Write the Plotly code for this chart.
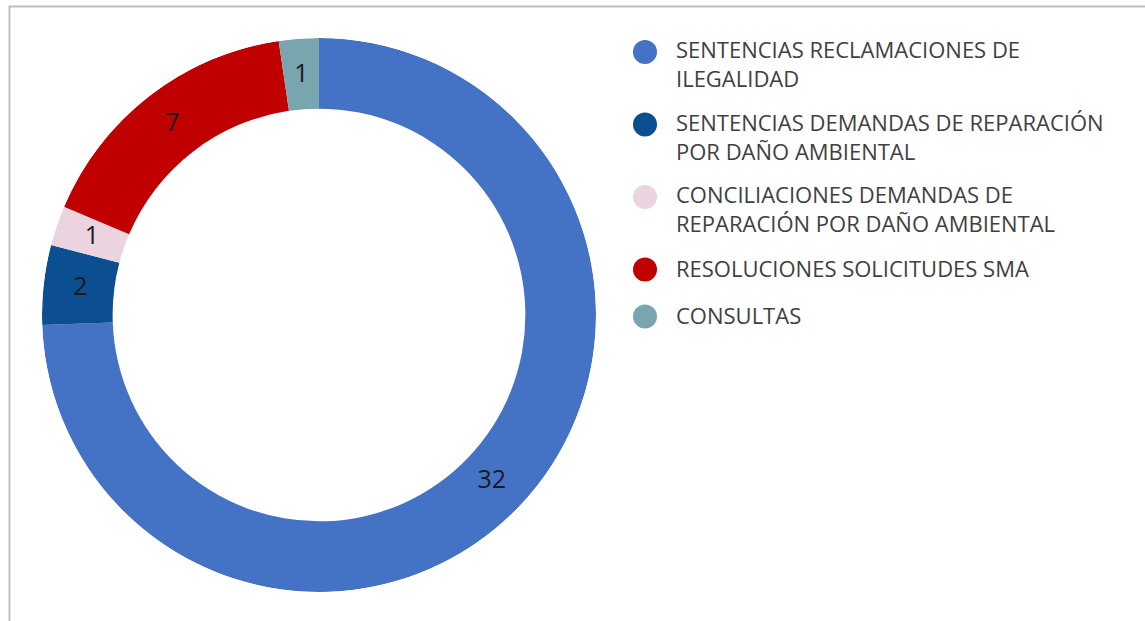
import plotly.graph_objects as go

categories = [
    "SENTENCIAS RECLAMACIONES DE<br>ILEGALIDAD",
    "SENTENCIAS DEMANDAS DE REPARACIÓN<br>POR DAÑO AMBIENTAL",
    "CONCILIACIONES DEMANDAS DE<br>REPARACIÓN POR DAÑO AMBIENTAL",
    "RESOLUCIONES SOLICITUDES SMA",
    "CONSULTAS",
]
values = [32, 2, 1, 7, 1]
colors = ["#4472C4", "#0C4F91", "#EBD3DF", "#C00000", "#79A5AF"]

W, H = 1145, 621
FONT = "Open Sans"
HOLE = 0.745
domain = dict(x=[42 / W, 596 / W], y=[1 - 592 / H, 1 - 38 / H])

# slice geometry from the values (angles in degrees, clockwise from 12 o'clock)
total = sum(values)
widths = [v / total * 360 for v in values]
mid_theta = []
cum = 0
for v in values:
    mid_theta.append((cum + v / 2) / total * 360)
    cum += v

fig = go.Figure()

# donut ring
fig.add_trace(go.Barpolar(
    theta=mid_theta, width=widths,
    r=[1 - HOLE] * len(values), base=[HOLE] * len(values),
    marker=dict(color=colors, line=dict(width=0)),
    hovertext=[c.replace("<br>", " ") + f": {v}" for c, v in zip(categories, values)],
    hoverinfo="text", showlegend=False, subplot="polar",
))

# value labels at the middle of the ring
fig.add_trace(go.Scatterpolar(
    r=[(1 + HOLE) / 2 - 0.006] * len(values), theta=mid_theta, mode="text",
    text=[str(v) for v in values],
    textfont=dict(family=FONT, size=25, color="#1a1a1a"),
    hoverinfo="skip", showlegend=False, subplot="polar",
))

# custom legend (circle markers + labels)
line_h, gap, y_start = 25.5, 21.5, 52
ys = []
y = y_start
for c in categories:
    ys.append(y)
    y += (c.count("<br>") + 1) * line_h + gap

fig.add_trace(go.Scatter(
    x=[645] * len(categories), y=ys, mode="markers",
    marker=dict(size=24, color=colors, symbol="circle"),
    hoverinfo="skip", showlegend=False,
))
for c, yy in zip(categories, ys):
    n = c.count("<br>")
    fig.add_annotation(
        x=674, y=yy - 18.5 - (1.5 if n else 0), xref="x", yref="y", text=c,
        showarrow=False, xanchor="left", yanchor="top", align="left",
        font=dict(family=FONT, size=22, color="#404040"),
    )

fig.add_shape(type="rect", xref="x", yref="y", x0=9.5, y0=6.5, x1=1200, y1=700,
              line=dict(color="#BFBFBF", width=2), layer="below")

fig.update_layout(
    width=W, height=H,
    margin=dict(l=0, r=0, t=0, b=0),
    paper_bgcolor="white", plot_bgcolor="rgba(0,0,0,0)",
    xaxis=dict(range=[0, W], visible=False, domain=[0, 1], fixedrange=True),
    yaxis=dict(range=[H, 0], visible=False, domain=[0, 1], fixedrange=True),
    polar=dict(
        domain=domain, bgcolor="rgba(0,0,0,0)", bargap=0,
        radialaxis=dict(range=[0, 1], visible=False),
        angularaxis=dict(rotation=90, direction="clockwise", visible=False),
    ),
    font=dict(family=FONT),
)

fig.write_html("out.html", config={"displayModeBar": False},
               post_script="document.body.style.margin='0';")
